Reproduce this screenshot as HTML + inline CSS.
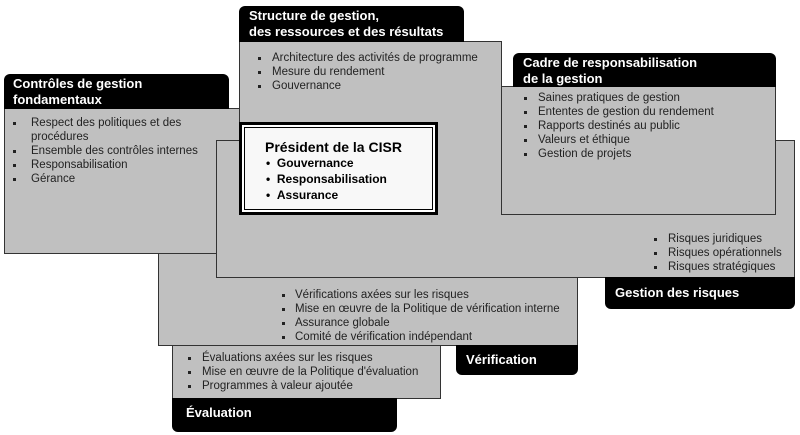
<!DOCTYPE html>
<html><head><meta charset="utf-8"><style>
body{margin:0;width:800px;height:435px;background:#fff;position:relative;overflow:hidden;font-family:"Liberation Sans",Arial,sans-serif}
.b{position:absolute;background:#c0c0c0;border:1px solid #333;box-sizing:border-box}
.t{position:absolute;background:#000;color:#fff;font-weight:bold;font-size:13px;line-height:16px;box-sizing:border-box;padding:2px 0 0 10px}
.l{position:absolute;font-size:11.5px;line-height:14px;color:#222;white-space:nowrap}
.l div{position:relative}
.l div:before{content:"";position:absolute;left:var(--bx);top:6px;width:3px;height:3px;background:#222}
</style></head><body>
<div class="b" style="left:158px;top:253px;width:420px;height:93px"></div>
<div class="t" style="left:456px;top:345px;width:122px;height:30px;border-radius:0 0 6px 6px;padding-top:7px">Vérification</div>
<div class="b" style="left:172px;top:345px;width:269px;height:54px"></div>
<div class="t" style="left:172px;top:398px;width:225px;height:34px;border-radius:0 0 6px 6px;padding-top:7px;padding-left:14px">Évaluation</div>
<div class="b" style="left:4px;top:108px;width:236px;height:146px"></div>
<div class="t" style="left:4px;top:74px;width:225px;height:35px;border-radius:6px 6px 0 0;padding-left:9px">Contrôles de gestion<br>fondamentaux</div>
<div class="b" style="left:216px;top:140px;width:579px;height:138px"></div>
<div class="t" style="left:605px;top:277px;width:190px;height:32px;border-radius:0 0 6px 6px;padding-top:8px">Gestion des risques</div>
<div class="b" style="left:239px;top:41px;width:263px;height:173px;border-bottom:none"></div>
<div class="t" style="left:239px;top:6px;width:225px;height:36px;border-radius:6px 6px 0 0">Structure de gestion,<br>des ressources et des résultats</div>
<div class="b" style="left:501px;top:86px;width:275px;height:129px"></div>
<div class="t" style="left:513px;top:53px;width:263px;height:34px;border-radius:6px 6px 0 0">Cadre de responsabilisation<br>de la gestion</div>
<div style="position:absolute;left:239px;top:122px;width:199px;height:93px;box-sizing:border-box;border:3px solid #000;background:#fff;padding:2px">
<div style="border:1px solid #000;height:100%;box-sizing:border-box;background:#f8f8f8"></div></div>
<div style="position:absolute;left:265px;top:139px;font-weight:bold;font-size:14px;color:#000">Président de la CISR</div>
<div style="position:absolute;left:266px;top:155px;font-weight:bold;font-size:12px;line-height:16px;color:#000">• &nbsp;Gouvernance<br>• &nbsp;Responsabilisation<br>• &nbsp;Assurance</div>
<div class="l" style="left:31px;top:116px;--bx:-18px"><div>Respect des politiques et des</div>procédures<div>Ensemble des contrôles internes</div><div>Responsabilisation</div><div>Gérance</div></div>
<div class="l" style="left:272px;top:51px;--bx:-14px"><div>Architecture des activités de programme</div><div>Mesure du rendement</div><div>Gouvernance</div></div>
<div class="l" style="left:538px;top:91px;--bx:-14px"><div>Saines pratiques de gestion</div><div>Ententes de gestion du rendement</div><div>Rapports destinés au public</div><div>Valeurs et éthique</div><div>Gestion de projets</div></div>
<div class="l" style="left:668px;top:232px;--bx:-14px"><div>Risques juridiques</div><div>Risques opérationnels</div><div>Risques stratégiques</div></div>
<div class="l" style="left:295px;top:288px;--bx:-13px"><div>Vérifications axées sur les risques</div><div>Mise en œuvre de la Politique de vérification interne</div><div>Assurance globale</div><div>Comité de vérification indépendant</div></div>
<div class="l" style="left:202px;top:351px;--bx:-14px"><div>Évaluations axées sur les risques</div><div>Mise en œuvre de la Politique d'évaluation</div><div>Programmes à valeur ajoutée</div></div>
</body></html>
